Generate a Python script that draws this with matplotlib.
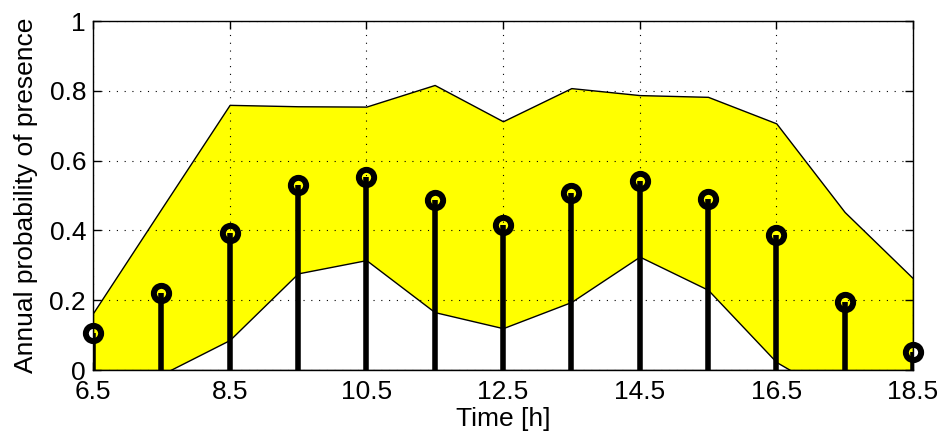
import matplotlib
matplotlib.use('Agg')
import matplotlib.pyplot as plt
from matplotlib.ticker import FuncFormatter

plt.rcParams['font.family'] = ['Liberation Sans', 'DejaVu Sans']

# hourly values
hours = [6.5, 7.5, 8.5, 9.5, 10.5, 11.5, 12.5, 13.5, 14.5, 15.5, 16.5, 17.5, 18.5]
mean_presence = [0.105, 0.22, 0.393, 0.53, 0.553, 0.487, 0.415, 0.508, 0.542, 0.49, 0.387, 0.196, 0.053]
upper_bound = [0.163, 0.462, 0.76, 0.756, 0.755, 0.817, 0.713, 0.808, 0.788, 0.783, 0.707, 0.453, 0.263]
lower_bound = [-0.05, -0.013, 0.086, 0.277, 0.315, 0.166, 0.12, 0.195, 0.325, 0.23, 0.023, -0.09, -0.05]
x_ticks = [6.5, 8.5, 10.5, 12.5, 14.5, 16.5, 18.5]
y_ticks = [0, 0.2, 0.4, 0.6, 0.8, 1.0]

fig = plt.figure(figsize=(9.41, 4.4), dpi=100)
ax = fig.add_axes([0.0988, 0.159, 0.8714, 0.793])

# yellow band between lower and upper bound
ax.fill_between(hours, lower_bound, upper_bound, facecolor='#ffff00',
                edgecolor='black', linewidth=1.0, zorder=1)

# stems
markerline, stemlines, baseline = ax.stem(hours, mean_presence, basefmt='k-')
plt.setp(stemlines, color='black', linewidth=4.0, zorder=3)
plt.setp(markerline, marker='o', markersize=11, markeredgewidth=4.3,
         markerfacecolor='none', markeredgecolor='black', zorder=4, clip_on=False)
plt.setp(baseline, linewidth=1.0, zorder=3)

ax.set_xlim(6.5, 18.5)
ax.set_ylim(0, 1)
ax.set_xticks(x_ticks)
ax.set_yticks(y_ticks)
ax.xaxis.set_major_formatter(FuncFormatter(lambda v, p: '%g' % v))
ax.yaxis.set_major_formatter(FuncFormatter(lambda v, p: '%g' % v))

ax.set_axisbelow(False)
ax.grid(True, color='black', linestyle=(0, (1, 6)), linewidth=0.8)
ax.tick_params(direction='in', length=6, width=1, top=True, right=True,
               labelsize=19)
ax.tick_params(axis='x', pad=7)
ax.tick_params(axis='y', pad=5)
for s in ax.spines.values():
    s.set_linewidth(1.0)
    s.set_zorder(5)

ax.set_xlabel('Time [h]', fontsize=19, labelpad=2)
ax.set_ylabel('Annual probability of presence', fontsize=19, labelpad=8)

fig.savefig('out.png', dpi=100)
